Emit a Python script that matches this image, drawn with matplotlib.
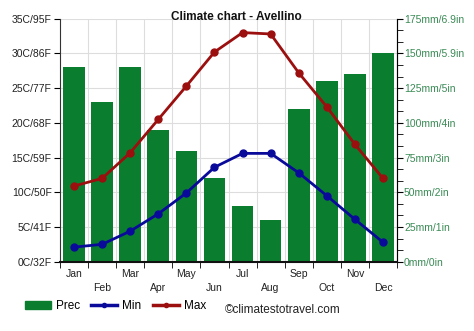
import numpy as np
import matplotlib.pyplot as plt
from matplotlib.lines import Line2D
from matplotlib.patches import Patch

plt.rcParams['font.family'] = ['Liberation Sans', 'DejaVu Sans']

months = ['Jan', 'Feb', 'Mar', 'Apr', 'May', 'Jun', 'Jul', 'Aug', 'Sep', 'Oct', 'Nov', 'Dec']
prec = [140, 115, 140, 95, 80, 60, 40, 30, 110, 130, 135, 150]
tmin = [2.1, 2.5, 4.4, 6.9, 9.9, 13.6, 15.6, 15.6, 12.8, 9.5, 6.1, 2.8]
tmax = [10.9, 12.0, 15.7, 20.5, 25.3, 30.2, 33.0, 32.8, 27.2, 22.3, 16.9, 12.0]
c_labels = ['0C/32F', '5C/41F', '10C/50F', '15C/59F', '20C/68F', '25C/77F', '30C/86F', '35C/95F']
mm_labels = ['0mm/0in', '25mm/1in', '50mm/2in', '75mm/3in', '100mm/4in',
             '125mm/5in', '150mm/5.9in', '175mm/6.9in']

green = '#0b7d2f'
red = '#9b0f0f'
blue = '#0a0a9a'

fig = plt.figure(figsize=(4.74, 3.31), dpi=100)
ax = fig.add_axes([0.1266, 0.2094, 0.711, 0.7341])
ax2 = ax.twinx()

x = np.arange(12)
ax2.bar(x, prec, width=0.77, color=green, zorder=2)
ax2.set_ylim(0, 175)
ax2.set_yticks(np.arange(0, 176, 25))
ax2.set_yticklabels(mm_labels, color='#3a8a55', fontsize=7.5)
ax2.set_yticks(np.arange(0, 175, 25 / 3), minor=True)
ax2.tick_params(axis='y', which='major', length=4, pad=1)
ax2.tick_params(axis='y', which='minor', length=4)

ax.set_zorder(ax2.get_zorder() + 1)
ax.patch.set_visible(False)
ax.plot(x, tmax, color=red, lw=2, marker='o', ms=5, zorder=3)
ax.plot(x, tmin, color=blue, lw=2, marker='o', ms=5, zorder=3)
ax.set_ylim(0, 35)
ax.set_xlim(-0.5, 11.5)
ax.set_yticks(np.arange(0, 36, 5))
ax.set_yticklabels(c_labels, fontsize=7.5, color='#222222')
ax.tick_params(axis='y', length=4, pad=2)

ax.set_xticks(x)
ax.set_xticklabels(months, fontsize=7.5, color='#222222')
ax.tick_params(axis='x', which='major', length=0)
ax.set_xticks(np.arange(-0.5, 12, 1), minor=True)
ax.tick_params(axis='x', which='minor', length=4)
for i, t in enumerate(ax.xaxis.get_major_ticks()):
    t.set_pad(5 if i % 2 == 0 else 15)

# grid drawn on the bar axes so it stays behind the bars
for yv in np.arange(25, 176, 25):
    ax2.axhline(yv, color='#dddddd', lw=0.8, zorder=0)
for xv in np.arange(0.5, 11.5, 1):
    ax2.axvline(xv, color='#dddddd', lw=0.8, zorder=0)

for a in (ax, ax2):
    a.spines['top'].set_visible(False)
ax.spines['left'].set_color('#333333')
ax.spines['bottom'].set_color('#111111')
ax.spines['bottom'].set_linewidth(1.5)
ax2.spines['right'].set_color('#555555')
ax2.spines['left'].set_visible(False)
ax2.spines['bottom'].set_visible(False)

fig.text(0.498, 0.95, 'Climate chart - Avellino', fontsize=8.5, fontweight='bold',
         ha='center', va='center', color='#111111')

handles = [Patch(color=green, label='Prec'),
           Line2D([0], [0], color=blue, lw=2.5, marker='o', ms=3, label='Min'),
           Line2D([0], [0], color=red, lw=2.5, marker='o', ms=3, label='Max')]
fig.legend(handles=handles, loc='lower left', bbox_to_anchor=(0.03, 0.025), ncol=3,
           frameon=False, fontsize=8.5, handlelength=2.2, columnspacing=1.0,
           handletextpad=0.4)
fig.text(0.475, 0.054, '\u00a9climatestotravel.com', fontsize=8.5, color='#222222')

fig.savefig('out.png', dpi=100)
